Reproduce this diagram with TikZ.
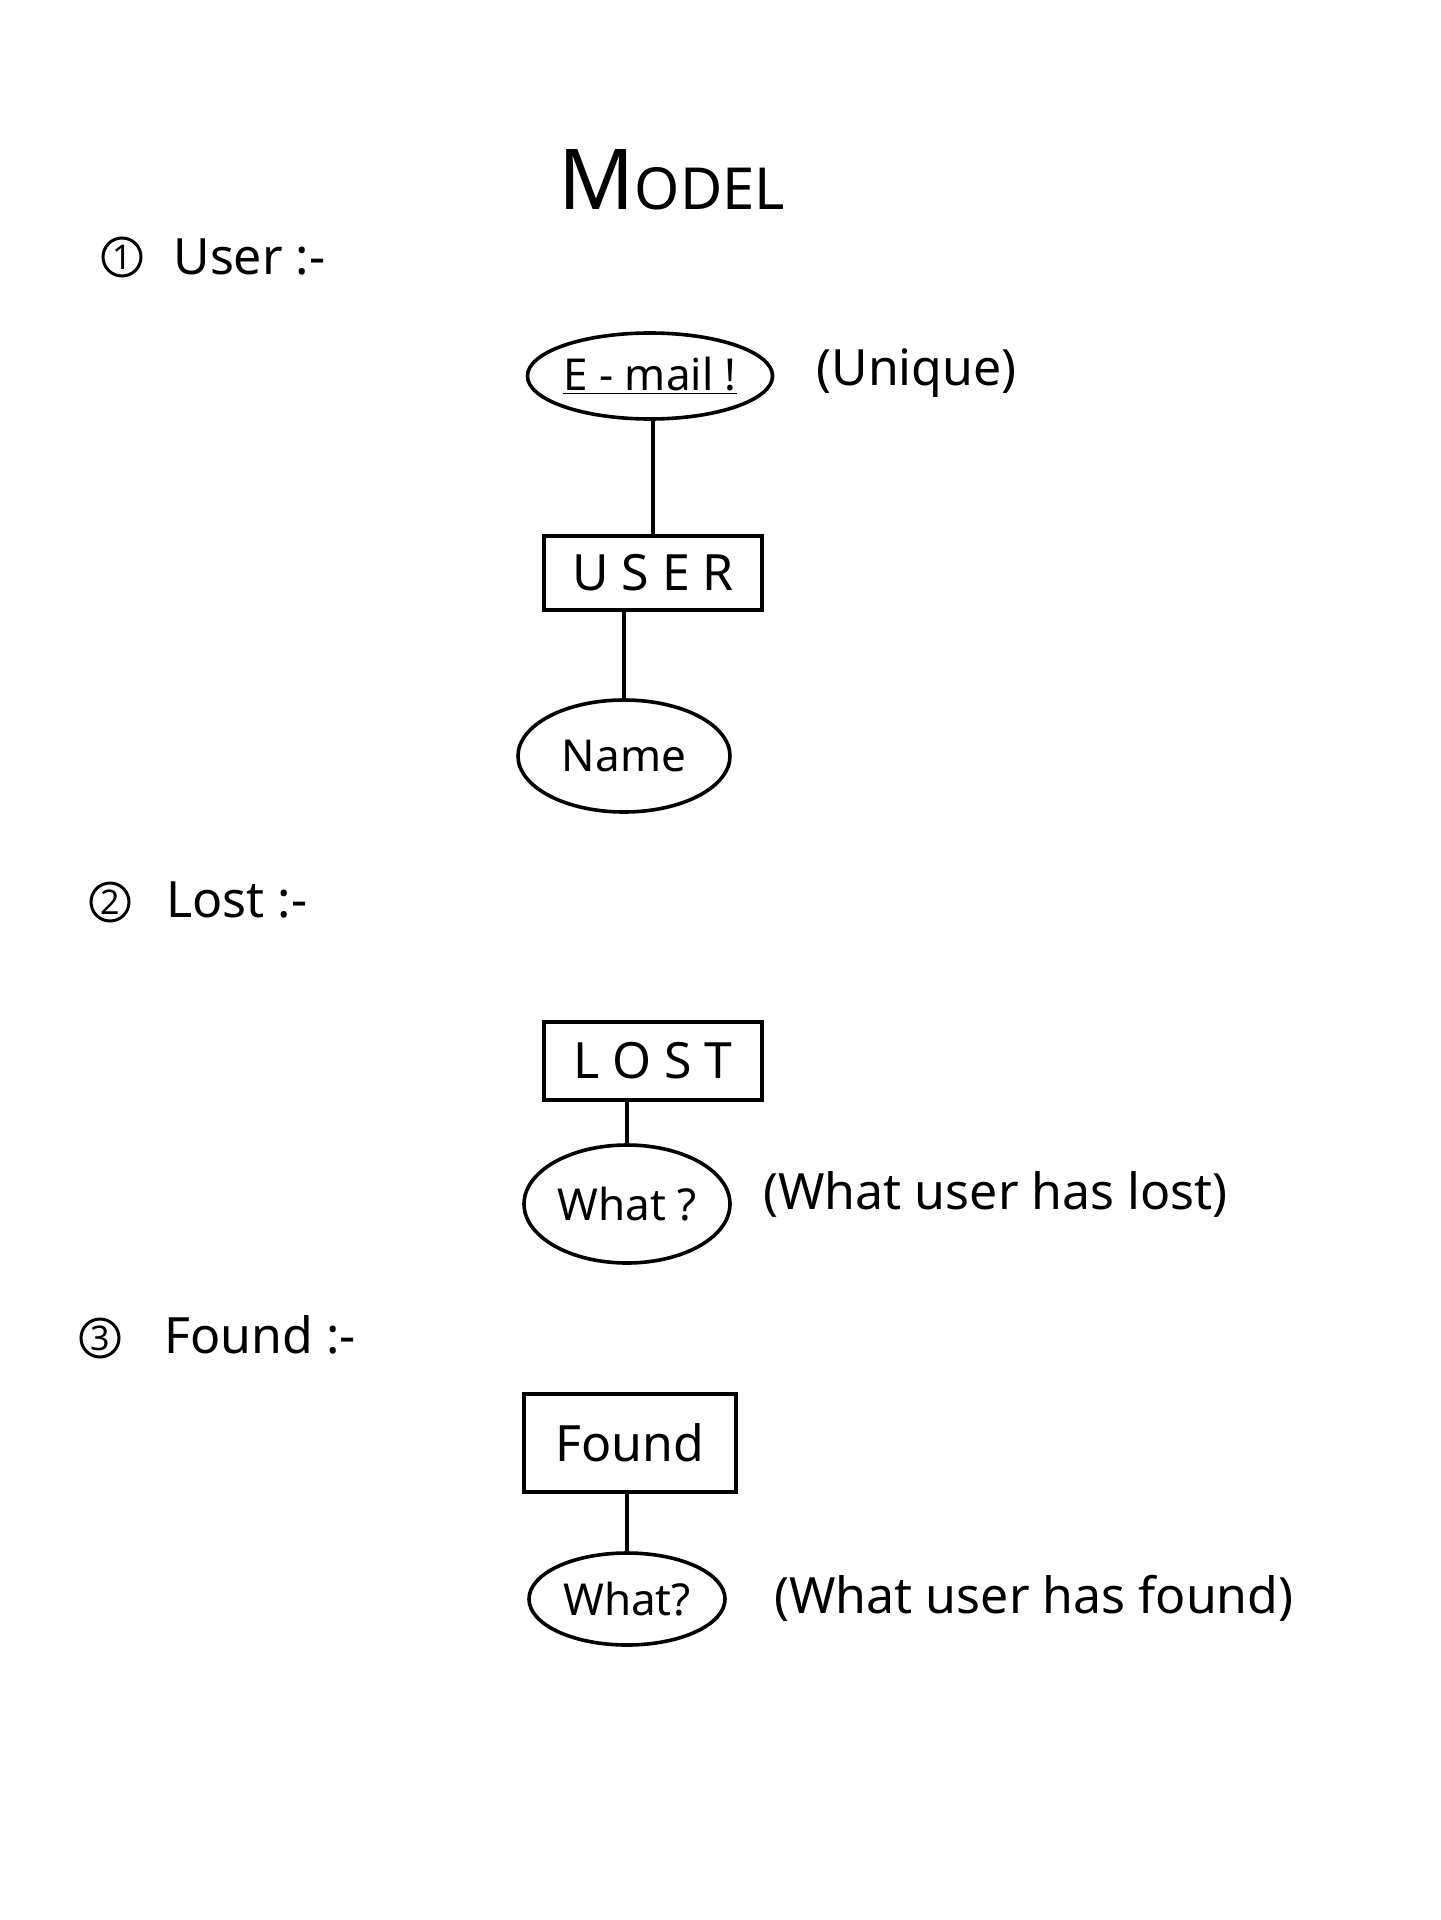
\documentclass[tikz,border=0pt]{standalone}
\usepackage{fontspec}
\setmainfont{Noto Sans}
\usetikzlibrary{shapes.geometric}
\begin{document}
\begin{tikzpicture}[x=0.5pt,y=-0.5pt, line width=1.8pt,
  every node/.style={font=\fontsize{25}{30}\selectfont},
  entity/.style={draw, rectangle, inner sep=0pt, line width=1.8pt},
  attr/.style={draw, ellipse, inner sep=0pt, line width=1.8pt, font=\fontsize{22}{26}\selectfont},
  num/.style={draw, circle, minimum size=19pt, inner sep=0pt, line width=1.5pt, font=\fontsize{17}{20}\selectfont},
  lbl/.style={anchor=west},
  link/.style={line width=1.8pt}
]
\useasboundingbox[fill=white] (0,0) rectangle (1440,1920);
\node (title) at (672,180) {{\fontsize{42}{46}\selectfont M}{\fontsize{29}{32}\selectfont ODEL}};

% Section 1
\node[num] (n1) at (122,257) {1};
\node[lbl] (l1) at (165,257) {User :-};
\node[attr, minimum width=119pt, minimum height=43pt] (email) at (650,376) {\underline{E - mail !}};
\node[lbl] (uniq) at (808,373) {(Unique)};
\node[entity, minimum width=109pt, minimum height=37pt] (user) at (653,573) {U S E R};
\node[attr, minimum width=106pt, minimum height=56pt] (name) at (624,756) {Name};
\draw[link] (email.south -| user.north) -- (user.north);
\draw[link] (user.south -| name.north) -- (name.north);

% Section 2
\node[num] (n2) at (110,902) {2};
\node[lbl] (l2) at (158,900) {Lost :-};
\node[entity, minimum width=109pt, minimum height=39pt] (lost) at (653,1061) {L O S T};
\node[attr, minimum width=103pt, minimum height=59pt] (what1) at (627,1204) {What ?};
\node[lbl] (lostlbl) at (755,1194) {(What user has lost)};
\draw[link] (lost.south -| what1.north) -- (what1.north);

% Section 3
\node[num] (n3) at (100,1338) {3};
\node[lbl] (l3) at (156,1335) {Found :-};
\node[entity, minimum width=106pt, minimum height=49pt] (found) at (630,1443) {Found};
\node[attr, minimum width=98pt, minimum height=46pt] (what2) at (627,1599) {What?};
\node[lbl] (foundlbl) at (766,1598) {(What user has found)};
\draw[link] (found.south -| what2.north) -- (what2.north);
\end{tikzpicture}
\end{document}
